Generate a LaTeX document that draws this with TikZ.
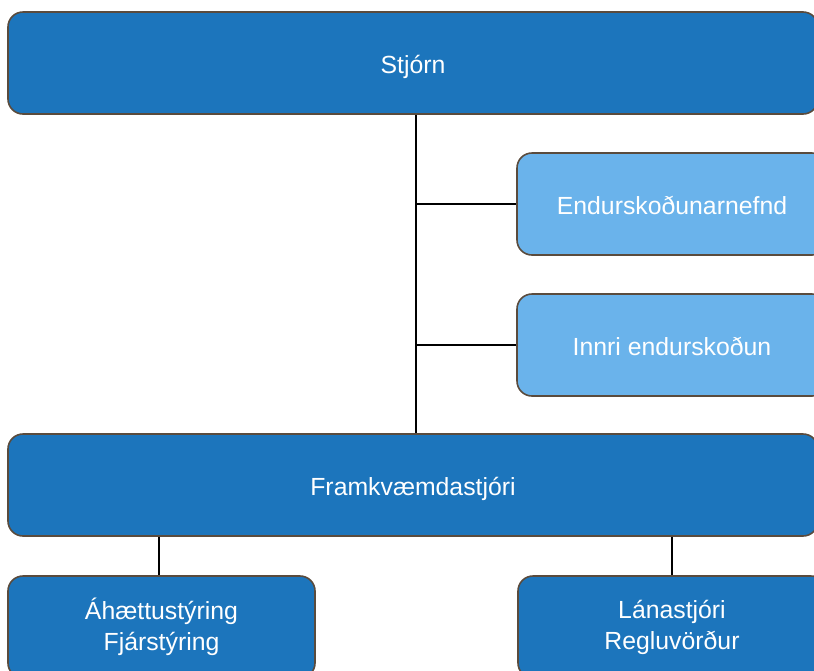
\documentclass[tikz,border=0pt]{standalone}
\usepackage{fontspec}
\setmainfont{Liberation Sans}
\usetikzlibrary{positioning}

\definecolor{boardBlue}{HTML}{1C75BC}
\definecolor{auditBlue}{HTML}{6AB3EB}
\definecolor{edgeBrown}{HTML}{5A4B3D}

\tikzset{
  unitbox/.style={draw=edgeBrown, line width=0.8pt, rounded corners=7.5pt,
    text=white, font=\fontsize{12.4}{15.5}\selectfont, align=center,
    minimum height=51pt, inner sep=0pt},
  oneline/.style={text height=12pt, text depth=1.2pt},
  mainbox/.style={unitbox, fill=boardBlue},
  auditbox/.style={unitbox, fill=auditBlue, oneline},
  link/.style={line width=1.25pt, black}
}

\begin{document}
\begin{tikzpicture}[x=0.5pt, y=-0.5pt]
    \useasboundingbox (0,0) rectangle (814,670);
    \clip (0,0) rectangle (814,670);

    % top level
    \node[mainbox, oneline, minimum width=405pt] (stjorn) at (413,63) {Stjórn};

    % audit side boxes
    \node[auditbox, minimum width=155pt] (endur) at (672,204) {Endurskoðunarnefnd};
    \node[auditbox, minimum width=155pt] (innri) at (672,345) {Innri endurskoðun};

    % managing director
    \node[mainbox, oneline, minimum width=405pt] (framk) at (413,485) {Framkvæmdastjóri};

    % bottom units
    \node[mainbox, minimum width=153.5pt] (ahaettu) at (161.5,627) {Áhættustýring\\Fjárstýring};
    \node[mainbox, minimum width=154pt] (lana) at (672,627) {Lánastjóri\\Regluvörður};

    % connectors
    \coordinate (spine1) at (416,204);
    \coordinate (spine2) at (416,345);
    \draw[link] (stjorn.south -| spine1) -- (framk.north -| spine1);
    \draw[link] (spine1) -- (endur.west);
    \draw[link] (spine2) -- (innri.west);
    \draw[link] (framk.south -| 159,0) -- (ahaettu.north -| 159,0);
    \draw[link] (framk.south -| lana.north) -- (lana.north);
\end{tikzpicture}
\end{document}
